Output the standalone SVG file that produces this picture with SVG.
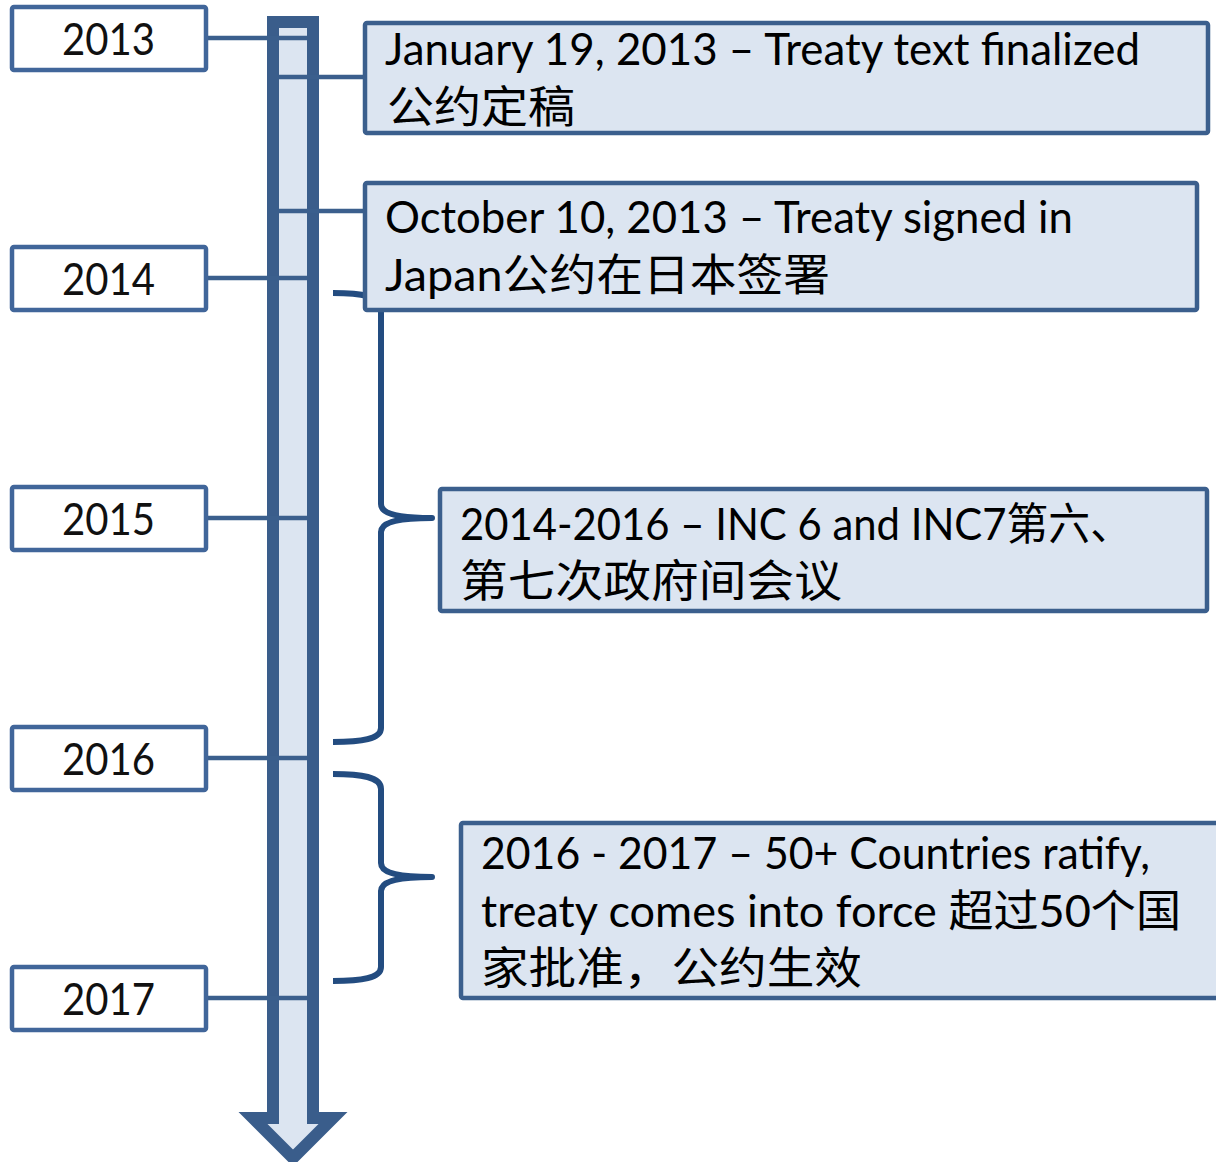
<svg xmlns="http://www.w3.org/2000/svg" width="1216" height="1162" viewBox="0 0 1216 1162">
<style>
.year rect{fill:#ffffff;stroke:#41669A;stroke-width:4.5}
.event rect{fill:#DCE5F1;stroke:#3B5F8D;stroke-width:4.5}
.yt{font-family:"Lato","Liberation Sans",sans-serif;font-size:45px;fill:#111}
.et{font-family:"Lato","Noto Sans CJK SC",sans-serif;font-size:44px;fill:#000}
.tick{stroke:#3B5F8D;stroke-width:4.5;fill:none}
.brace{stroke:#234C80;stroke-width:6;fill:none;stroke-linecap:butt;stroke-linejoin:round}
</style>
<rect width="1216" height="1162" fill="#ffffff"/>
<g id="timeline">
<path d="M273,22 L313,22 L313,1118 L333,1118 L293,1158 L253,1118 L273,1118 Z" fill="#DCE5F1" stroke="#3A5D8B" stroke-width="12" stroke-linejoin="miter"/>
</g>
<g id="connectors">
<line class="tick" x1="206" y1="38" x2="307" y2="38"/>
<line class="tick" x1="206" y1="278" x2="307" y2="278"/>
<line class="tick" x1="206" y1="518" x2="307" y2="518"/>
<line class="tick" x1="206" y1="758" x2="307" y2="758"/>
<line class="tick" x1="206" y1="998" x2="307" y2="998"/>
<line class="tick" x1="279" y1="77" x2="365" y2="77"/>
<line class="tick" x1="279" y1="211" x2="365" y2="211"/>
<path class="brace" d="M333,293 C362,293 381,296 381,308 L381,504 C381,512 392,518 432,518 C392,518 381,524 381,532 L381,728 C381,739 362,742 333,742"/>
<path class="brace" d="M333,774 C362,774 381,777 381,789 L381,863 C381,871 392,877 432,877 C392,877 381,883 381,891 L381,967 C381,978 362,981 333,981"/>
</g>
<g id="year-2013" class="year"><rect x="12" y="7" width="194" height="63" rx="2"/><text class="yt" x="62" y="55" textLength="93" lengthAdjust="spacingAndGlyphs">2013</text></g>
<g id="year-2014" class="year"><rect x="12" y="247" width="194" height="63" rx="2"/><text class="yt" x="62" y="295" textLength="93" lengthAdjust="spacingAndGlyphs">2014</text></g>
<g id="year-2015" class="year"><rect x="12" y="487" width="194" height="63" rx="2"/><text class="yt" x="62" y="535" textLength="93" lengthAdjust="spacingAndGlyphs">2015</text></g>
<g id="year-2016" class="year"><rect x="12" y="727" width="194" height="63" rx="2"/><text class="yt" x="62" y="775" textLength="93" lengthAdjust="spacingAndGlyphs">2016</text></g>
<g id="year-2017" class="year"><rect x="12" y="967" width="194" height="63" rx="2"/><text class="yt" x="62" y="1015" textLength="93" lengthAdjust="spacingAndGlyphs">2017</text></g>
<g id="event-1" class="event">
<rect x="365" y="23" width="843" height="110" rx="2"/>
<text class="et" x="385" y="65" textLength="755" lengthAdjust="spacingAndGlyphs">January 19, 2013 – Treaty text finalized</text>
<text class="et" x="387" y="123" textLength="188" lengthAdjust="spacingAndGlyphs">公约定稿</text>
</g>
<g id="event-2" class="event">
<rect x="365" y="183" width="832" height="127" rx="2"/>
<text class="et" x="385" y="233" textLength="688" lengthAdjust="spacingAndGlyphs">October 10, 2013 – Treaty signed in</text>
<text class="et" x="385" y="291" textLength="445" lengthAdjust="spacingAndGlyphs">Japan公约在日本签署</text>
</g>
<g id="event-3" class="event">
<rect x="440" y="489" width="767" height="122" rx="2"/>
<text class="et" x="460" y="540" textLength="672" lengthAdjust="spacingAndGlyphs">2014-2016 – INC 6 and INC7第六、</text>
<text class="et" x="460" y="597" textLength="382" lengthAdjust="spacingAndGlyphs">第七次政府间会议</text>
</g>
<g id="event-4" class="event">
<rect x="461" y="823" width="800" height="175" rx="2"/>
<text class="et" x="481" y="869" textLength="669" lengthAdjust="spacingAndGlyphs">2016 - 2017 – 50+ Countries ratify,</text>
<text class="et" x="481" y="927" textLength="700" lengthAdjust="spacingAndGlyphs">treaty comes into force 超过50个国</text>
<text class="et" x="481" y="984" textLength="381" lengthAdjust="spacingAndGlyphs">家批准，公约生效</text>
</g>
</svg>
